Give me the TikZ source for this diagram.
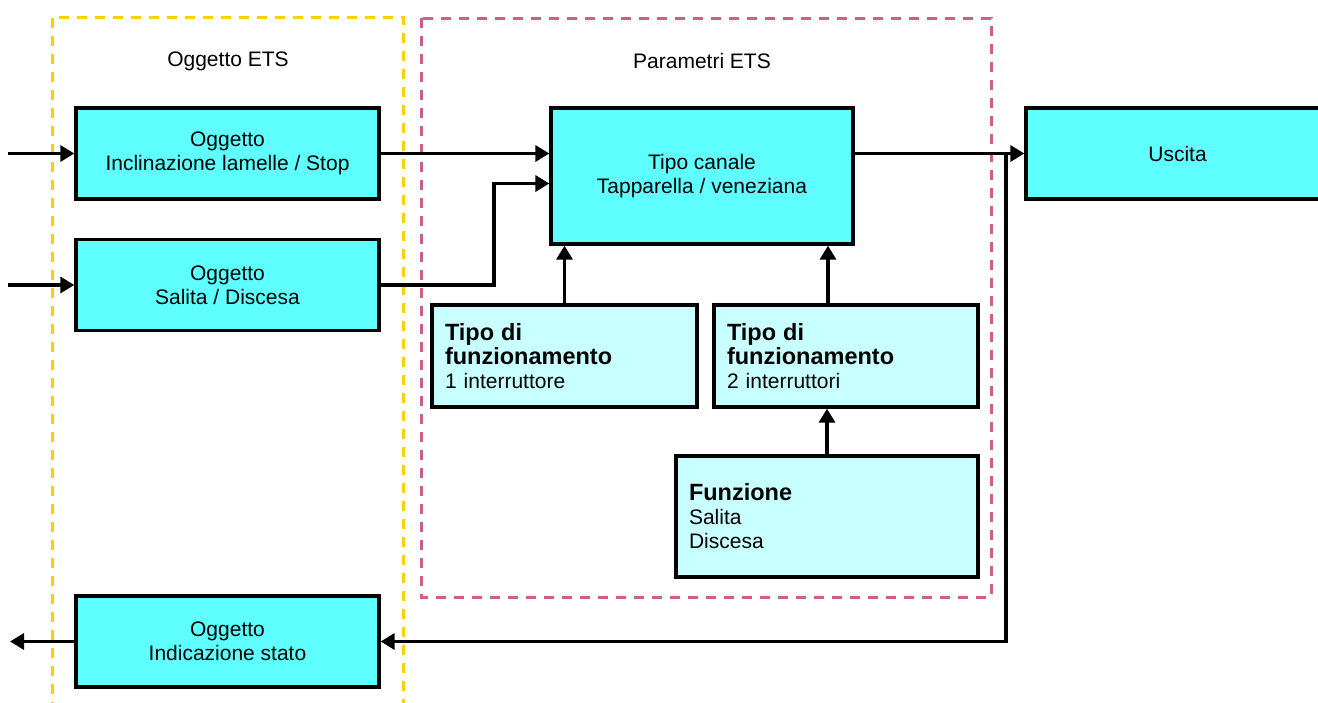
\documentclass[tikz,border=0pt]{standalone}
\usepackage{fontspec}
\setmainfont{Liberation Sans}
\usetikzlibrary{arrows.meta}
\definecolor{boxcyan}{HTML}{5FFFFF}
\definecolor{boxlight}{HTML}{C8FFFF}
\definecolor{frameyellow}{HTML}{FFD000}
\definecolor{framepink}{HTML}{CF5F88}
\newcommand\bt[1]{{\fontsize{23.5}{24}\selectfont\bfseries #1}}
\tikzset{
  objbox/.style={draw=black, line width=3.3pt, fill=boxcyan, minimum width=#1, minimum height=91pt, align=center, inner sep=0pt},
  parbox/.style={draw=black, line width=3.3pt, fill=boxlight, align=left, inner sep=0pt},
  conn/.style={line width=3.3pt, -{Triangle[length=14pt,width=16pt]}},
  yframe/.style={draw=frameyellow, line width=3pt, dash pattern=on 10pt off 8pt},
  pframe/.style={draw=framepink, line width=3pt, dash pattern=on 10pt off 8pt},
  lbl/.style={inner sep=0pt},
}
\begin{document}
\begin{tikzpicture}[x=1pt,y=-1pt, font=\fontsize{21}{24}\selectfont]
\clip (0,0) rectangle (1318,702);
\fill[white] (0,0) rectangle (1318,702);
% frames
\draw[yframe] (52,712) -- (52,17) -- (403,17) -- (403,712);
\draw[pframe] (421,18) rectangle (991,597);
\node[lbl] (lblobj) at (228,61) {Oggetto ETS};
\node[lbl] (lblpar) at (702,61) {Parametri ETS};
% boxes
\node[objbox=303pt] (b1) at (227.5,153.5) {Oggetto\\Inclinazione lamelle / Stop};
\node[objbox=303pt] (b2) at (227.5,285) {Oggetto\\Salita / Discesa};
\node[objbox=303pt] (b4) at (227.5,641.5) {Oggetto\\Indicazione stato};
\node[objbox=302pt, minimum height=136pt] (b3) at (702,176) {Tipo canale\\Tapparella / veneziana};
\node[objbox=303pt] (out) at (1177.5,153.5) {Uscita};
\node[parbox, minimum width=265pt, minimum height=102pt, text width=239pt] (t1) at (564.5,356) {\bt{Tipo di}\\\bt{funzionamento}\\1 interruttore};
\node[parbox, minimum width=264pt, minimum height=102pt, text width=238pt] (t2) at (846,356) {\bt{Tipo di}\\\bt{funzionamento}\\2 interruttori};
\node[parbox, minimum width=302pt, minimum height=121pt, text width=276pt] (fz) at (827,516.5) {\bt{Funzione}\\Salita\\Discesa};
% free ends
\coordinate (in1) at (8,153.5);
\coordinate (in2) at (8,285);
\coordinate (o4) at (10,641.5);
\coordinate (jn) at (1006,153.5);
\coordinate (kn) at (494,285);
% connectors
\draw[conn] (in1) -- (b1.west);
\draw[conn] (in2) -- (b2.west);
\draw[conn] (b1.east) -- (b1.east -| b3.west);
\draw[conn] (b2.east) -- (kn) |- ([yshift=-30pt]b1.east -| b3.west);
\draw[conn] (t1.north) -- (t1.north |- b3.south);
\draw[conn] ([xshift=-18pt]t2.north) -- ([xshift=-18pt]t2.north |- b3.south);
\draw[conn] (fz.north) -- (fz.north |- t2.south);
\draw[conn] (out.west -| b3.east) -- (out.west);
\draw[conn] (jn) |- (b4.east);
\draw[conn] (b4.west) -- (o4);
\end{tikzpicture}
\end{document}
